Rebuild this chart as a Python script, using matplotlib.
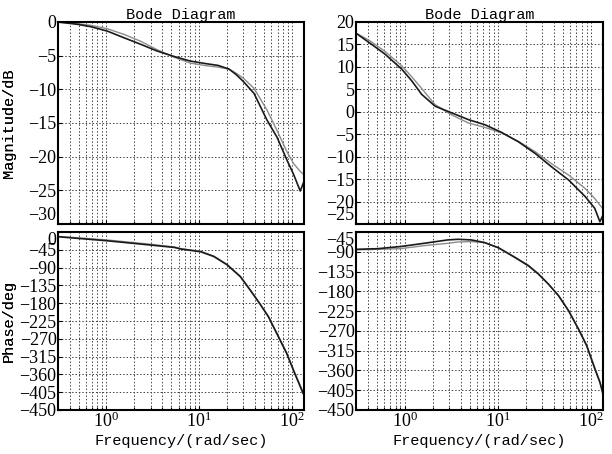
import matplotlib
matplotlib.use("Agg")
import matplotlib.pyplot as plt
from matplotlib.ticker import LogLocator, MultipleLocator, NullFormatter

plt.rcParams['font.family'] = 'Liberation Serif'
plt.rcParams['mathtext.fontset'] = 'stix'

# top left: magnitude (dB)
f_mag1 = [0.3, 0.49, 0.68, 1.02, 1.55, 2.33, 3.5, 5.3, 8.0, 12, 16, 21, 25, 30, 39, 54, 69, 89,
          104, 123, 133]
mag1_black = [0, -0.35, -0.7, -1.35, -2.35, -3.3, -4.3, -5.1, -5.8, -6.2, -6.45, -7.0, -7.8, -8.85,
              -10.6, -14.6, -17.1, -20.6, -22.6, -25.1, -23.9]
mag1_gray = [0, -0.25, -0.5, -1.0, -1.85, -2.85, -4.1, -5.2, -6.1, -6.5, -6.7, -7.0, -7.6, -8.35,
             -9.85, -13.1, -16.1, -19.35, -21.0, -22.2, -22.6]

# top right: magnitude (dB)
f_mag2 = [0.3, 0.41, 0.61, 0.93, 1.19, 1.52, 2.12, 3.2, 4.84, 7.3, 11, 16.7, 25.3, 38, 57.7, 87,
          110, 125, 135]
mag2_black = [17.5, 15.5, 12.9, 9.5, 6.9, 3.9, 1.25, -0.25, -1.75, -2.9, -4.6, -6.7, -9.3, -12.3,
              -15.2, -18.9, -21.5, -24.5, -23.0]
mag2_gray = [17.5, 16.0, 13.5, 10.25, 7.8, 5.2, 1.6, -0.7, -2.5, -3.5, -4.7, -6.6, -8.9, -11.6,
             -14.1, -17.1, -19.3, -20.8, -21.6]

# bottom left: phase (deg)
f_ph1 = [0.3, 1.0, 3.0, 5.4, 6.35, 10.4, 14.4, 20, 27.8, 35.5, 45.2, 55.7, 68.5, 87.8, 107, 132]
ph1_black = [-12, -22, -33, -39, -43, -50, -62, -83, -113, -147, -182, -214, -256, -307, -357, -408]
ph1_gray = [-11, -20, -31, -38, -42, -49, -61, -82, -112, -146, -181, -213, -255, -305, -355, -405]

# bottom right: phase (deg)
f_ph2 = [0.3, 0.51, 0.91, 1.63, 2.9, 3.74, 5.2, 7.2, 10.2, 15.3, 21.4, 27.4, 35, 44.9, 57.5, 73.6,
         90.3, 110.6, 125, 135]
ph2_black = [-84.4, -83, -78, -70.6, -63, -61.6, -63, -69, -81, -103, -122, -141, -163.6, -190, -224,
             -266, -304, -357, -387, -414]
ph2_gray = [-85.5, -84.5, -82.8, -76, -70.7, -67.7, -66.8, -69, -81, -102, -121, -140, -163, -189,
            -223, -265, -303, -355, -385, -410]

W, H = 612, 454
fig = plt.figure(figsize=(W / 100, H / 100), dpi=100)


def box(left, top, right, bottom):
    return [left / W, (H - bottom) / H, (right - left) / W, (bottom - top) / H]


def style(ax, ylim, ystep, show_x):
    ax.set_xscale('log')
    ax.set_xlim(0.3, 135)
    ax.set_ylim(*ylim)
    ax.yaxis.set_major_locator(MultipleLocator(ystep))
    ax.xaxis.set_major_locator(LogLocator(base=10))
    ax.xaxis.set_minor_locator(LogLocator(base=10, subs=range(2, 10)))
    ax.xaxis.set_minor_formatter(NullFormatter())
    ax.grid(True, which='both', axis='x', color='#444444', linestyle=(0, (1.5, 2)), linewidth=0.7)
    ax.grid(True, which='major', axis='y', color='#444444', linestyle=(0, (1.5, 2)), linewidth=0.7)
    ax.tick_params(which='both', direction='in', length=3, width=0.8, pad=1, labelsize=13)
    ax.tick_params(which='minor', length=2)
    if not show_x:
        ax.tick_params(axis='x', which='both', labelbottom=False)
    for s in ax.spines.values():
        s.set_linewidth(1.5)


label_font = dict(family='Liberation Mono', fontsize=11)

panels = [
    (box(58, 22, 304, 224), f_mag1, mag1_black, mag1_gray, (-30, 0), 5, False, 'Magnitude/dB', 58),
    (box(356, 22, 603, 224), f_mag2, mag2_black, mag2_gray, (-25, 20), 5, False, 'Magnitude/dB', 356),
    (box(58, 232, 304, 410), f_ph1, ph1_black, ph1_gray, (-450, 0), 45, True, 'Phase/deg', 58),
    (box(356, 232, 603, 410), f_ph2, ph2_black, ph2_gray, (-450, -45), 45, True, 'Phase/deg', 356),
]

axes = []
for rect, f, yb, yg, ylim, ystep, show_x, ylab, left in panels:
    ax = fig.add_axes(rect)
    style(ax, ylim, ystep, show_x)
    ax.plot(f, yg, color='#8c8c8c', linewidth=1.0)
    ax.plot(f, yb, color='#1a1a1a', linewidth=1.2)
    ax.set_ylabel(ylab, **label_font)
    ax.yaxis.set_label_coords((16 - left) / (rect[2] * W), 0.5)
    if show_x:
        ax.set_xlabel('Frequency/(rad/sec)', labelpad=2, **label_font)
    else:
        ax.set_title('Bode Diagram', pad=2, **label_font)
    axes.append((ax, show_x, ylim))

# keep the end labels of neighbouring panels from running into each other
fig.canvas.draw()
for ax, show_x, ylim in axes:
    locs = ax.yaxis.get_majorticklocs()
    ticks = ax.yaxis.get_major_ticks(len(locs))
    for loc, tick in zip(locs, ticks):
        if show_x and abs(loc - ylim[1]) < 1e-6:
            tick.label1.set_va('top')
        if not show_x and abs(loc - ylim[0]) < 1e-6:
            tick.label1.set_va('bottom')

fig.savefig('out.png', dpi=100)
